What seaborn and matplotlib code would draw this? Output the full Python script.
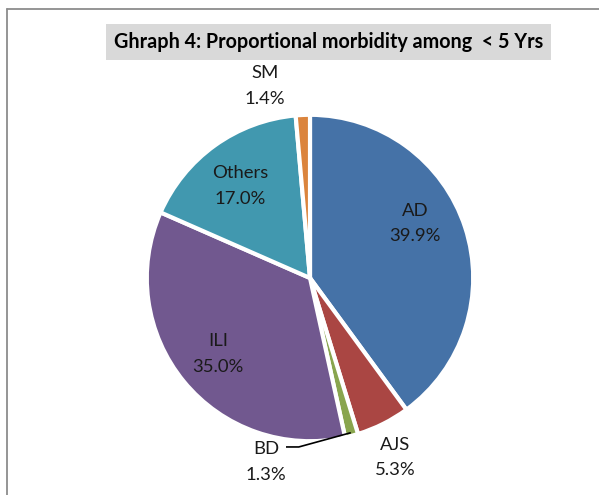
import numpy as np
import matplotlib
matplotlib.use('Agg')
import matplotlib.pyplot as plt
import seaborn as sns
from matplotlib.lines import Line2D

# --- Data ---
categories = ['AD', 'AJS', 'BD', 'ILI', 'Others', 'SM']
shares = [39.9, 5.3, 1.3, 35.0, 17.0, 1.4]
colors = ['#4572A7', '#AA4643', '#89A54E', '#71588F', '#4198AF', '#DB843D']
title = 'Ghraph 4: Proportional morbidity among  < 5 Yrs'

# label anchor points (pie radius = 1)
label_pos = {
    'AD': (0.656, 0.34),
    'AJS': (0.531, -1.12),
    'BD': (-0.275, -1.15),
    'ILI': (-0.575, -0.475),
    'Others': (-0.4375, 0.575),
    'SM': (-0.281, 1.20),
}

# --- Style ---
sns.set_style("white")
plt.rcParams['font.family'] = ['Lato', 'DejaVu Sans']

fig = plt.figure(figsize=(5.99, 4.95), dpi=100)
ax = fig.add_axes([0, 0, 1, 1])

wedges, _ = ax.pie(shares, colors=colors, startangle=90, counterclock=False,
                   radius=1.02, wedgeprops=dict(edgecolor='white', linewidth=3))

# pie centre at (310, 278) px, 160 px per unit
ax.set_xlim(-310 / 160, (599 - 310) / 160)
ax.set_ylim((278 - 495) / 160, 278 / 160)
ax.set_aspect('auto')
ax.axis('off')

for name, val in zip(categories, shares):
    x, y = label_pos[name]
    ax.text(x, y, f'{name}\n{val:.1f}%', ha='center', va='center',
            fontsize=13.3, color='#1a1a1a', linespacing=1.7)

# leader line for BD
bd = wedges[categories.index('BD')]
mid = np.deg2rad((bd.theta1 + bd.theta2) / 2)
ex, ey = np.cos(mid), np.sin(mid)
ax.plot([-0.15, -0.07, ex], [-1.056, -1.056, ey], color='black', lw=1.2,
        solid_capstyle='butt')

# title with grey box
fig.text(0.548, 0.915, title, ha='center', va='center', fontsize=14.2,
         fontweight='bold', color='black',
         bbox=dict(boxstyle='square,pad=0.4', facecolor='#d9d9d9', edgecolor='none'))

# chart-area border (left and top edges visible)
fig.add_artist(Line2D([7 / 599, 7 / 599], [0, 1 - 9 / 495], color='#8c8c8c', lw=1.3,
                      transform=fig.transFigure))
fig.add_artist(Line2D([7 / 599, 1], [1 - 9 / 495, 1 - 9 / 495], color='#8c8c8c', lw=1.3,
                      transform=fig.transFigure))

plt.savefig('out.png', dpi=100)
plt.close()
